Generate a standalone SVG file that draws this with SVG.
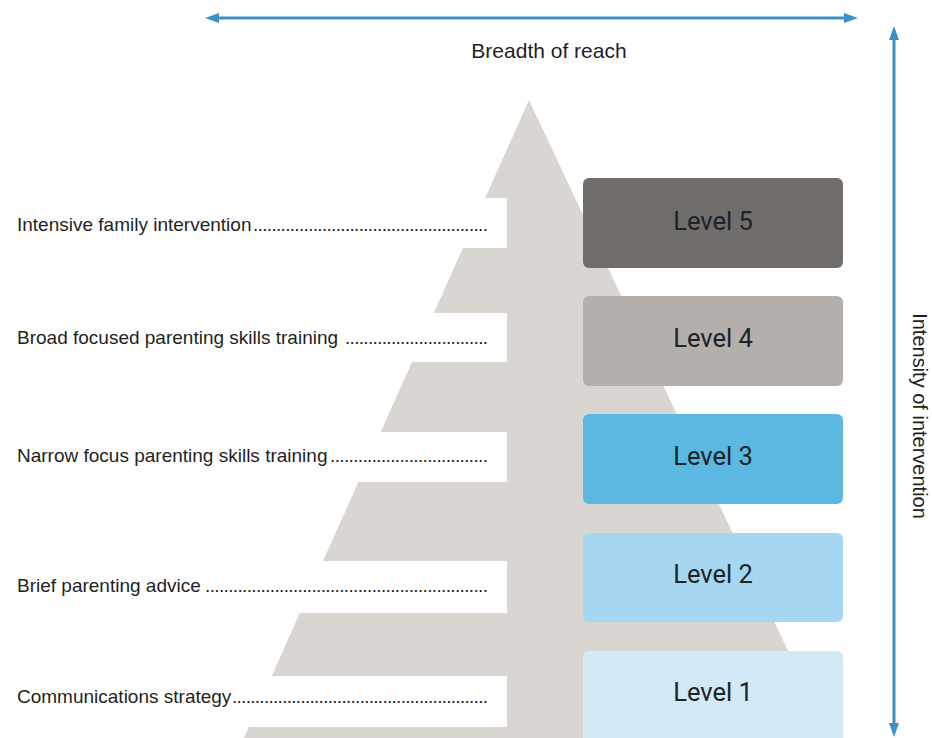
<svg xmlns="http://www.w3.org/2000/svg" width="932" height="738" viewBox="0 0 932 738">
  <defs>
    <marker id="ah" markerUnits="userSpaceOnUse" markerWidth="14" markerHeight="10" viewBox="0 0 14 10" refX="2" refY="5" orient="auto-start-reverse">
      <path d="M0,0 L14,5 L0,10 z" fill="#3d8fc6"/>
    </marker>
    <style>
      .lbl { font-family: "Liberation Sans", Arial, sans-serif; font-size: 19px; fill: #1f1f1f; }
      .lvl { font-family: Roboto, "Liberation Sans", sans-serif; font-size: 25.5px; fill: #1c2329; text-anchor: middle; }
      .axis { font-family: "Liberation Sans", Arial, sans-serif; fill: #1f1f1f; text-anchor: middle; }
      .box { stroke: none; }
      .band { fill: #ffffff; }
      .conn { stroke: #3d8fc6; stroke-width: 3; fill: none; marker-start: url(#ah); marker-end: url(#ah); }
    </style>
  </defs>

  <rect width="932" height="738" fill="#ffffff"/>

  <g id="pyramid">
    <polygon points="529,100 244,738 829,738" fill="#d9d5d1"/>
    <rect class="band" x="0" y="198" width="507" height="50"/>
    <rect class="band" x="0" y="313" width="507" height="49"/>
    <rect class="band" x="0" y="432" width="507" height="50"/>
    <rect class="band" x="0" y="561" width="507" height="52"/>
    <rect class="band" x="0" y="676" width="507" height="51"/>
  </g>

  <g id="level5">
    <rect class="box" x="583" y="178" width="260" height="90" rx="6" fill="#716d6a"/>
    <text class="lvl" x="713" y="230">Level 5</text>
  </g>
  <g id="level4">
    <rect class="box" x="583" y="296" width="260" height="90" rx="6" fill="#b4afab"/>
    <text class="lvl" x="713" y="347">Level 4</text>
  </g>
  <g id="level3">
    <rect class="box" x="583" y="414" width="260" height="90" rx="6" fill="#5bb8e0"/>
    <text class="lvl" x="713" y="465">Level 3</text>
  </g>
  <g id="level2">
    <rect class="box" x="583" y="533" width="260" height="89" rx="6" fill="#a6d7f0"/>
    <text class="lvl" x="713" y="583">Level 2</text>
  </g>
  <g id="level1">
    <rect class="box" x="583" y="651" width="260" height="100" rx="6" fill="#d2eaf5"/>
    <text class="lvl" x="713" y="701">Level 1</text>
  </g>

  <g id="label-intensive">
    <text class="lbl" x="17" y="231">Intensive family intervention<tspan x="253" textLength="235" lengthAdjust="spacing">...................................................</tspan></text>
  </g>
  <g id="label-broad">
    <text class="lbl" x="17" y="344">Broad focused parenting skills training <tspan x="345" textLength="143" lengthAdjust="spacing">...............................</tspan></text>
  </g>
  <g id="label-narrow">
    <text class="lbl" x="17" y="462">Narrow focus parenting skills training<tspan x="330" textLength="158" lengthAdjust="spacing">..................................</tspan></text>
  </g>
  <g id="label-brief">
    <text class="lbl" x="17" y="592">Brief parenting advice<tspan x="205" textLength="283" lengthAdjust="spacing">.............................................................</tspan></text>
  </g>
  <g id="label-comms">
    <text class="lbl" x="17" y="703">Communications strategy<tspan x="232" textLength="256" lengthAdjust="spacing">........................................................</tspan></text>
  </g>

  <g id="connectors">
    <line class="conn" x1="217" y1="18" x2="846" y2="18"/>
    <line class="conn" x1="894" y1="38" x2="894" y2="725"/>
  </g>

  <g id="axis-labels">
    <text class="axis" x="549" y="58" font-size="21">Breadth of reach</text>
    <text class="axis" font-size="20" transform="translate(913,416) rotate(90)">Intensity of intervention</text>
  </g>
</svg>
